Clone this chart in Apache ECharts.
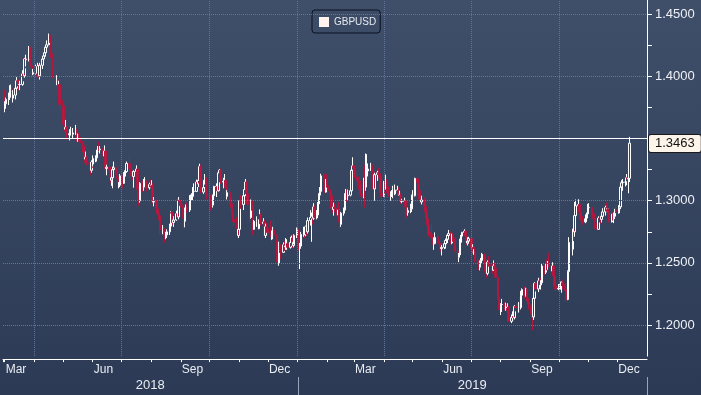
<!DOCTYPE html>
<html><head><meta charset="utf-8">
<script src="https://cdn.jsdelivr.net/npm/echarts@6/dist/echarts.min.js"></script>
<style>html,body{margin:0;padding:0;background:#35445f}#c{width:701px;height:395px}</style>
</head><body><div id="c"></div><script>
// Daily GBPUSD candles, one row per weekday from 2018-02-28: [open, close, low, high]
const ohlc = [
[1.3890,1.3760,1.3750,1.3900],[1.3760,1.3780,1.3712,1.3800],[1.3780,1.3815,1.3740,1.3830],
[1.3815,1.3830,1.3770,1.3870],[1.3830,1.3885,1.3810,1.3929],[1.3885,1.3895,1.3850,1.3935],[1.3895,1.3825,1.3795,1.3910],[1.3825,1.3850,1.3790,1.3890],
[1.3850,1.3905,1.3815,1.3925],[1.3905,1.3965,1.3870,1.3995],[1.3965,1.3960,1.3920,1.4000],[1.3960,1.3935,1.3890,1.3975],[1.3935,1.3935,1.3890,1.3965],
[1.3935,1.4020,1.3925,1.4050],[1.4020,1.4005,1.3960,1.4040],[1.4005,1.4140,1.3990,1.4150],[1.4140,1.4135,1.4065,1.4215],[1.4135,1.4140,1.4080,1.4175],
[1.4140,1.4235,1.4120,1.4245],[1.4235,1.4165,1.4140,1.4245],[1.4165,1.4085,1.4075,1.4195],[1.4085,1.4020,1.4005,1.4105],[1.4020,1.4030,1.4010,1.4060],
[1.4030,1.4080,1.4015,1.4095],[1.4080,1.4025,1.4000,1.4085],[1.4025,1.4080,1.4010,1.4110],[1.4080,1.4005,1.3990,1.4100],[1.4005,1.4090,1.3975,1.4110],
[1.4090,1.4140,1.4060,1.4160],[1.4140,1.4165,1.4120,1.4190],[1.4165,1.4190,1.4140,1.4215],[1.4190,1.4235,1.4160,1.4245],[1.4235,1.4255,1.4200,1.4290],
[1.4255,1.4330,1.4250,1.4345],[1.4330,1.4295,1.4270,1.4377],[1.4295,1.4185,1.4150,1.4305],[1.4185,1.4040,1.4030,1.4210],[1.4040,1.4010,1.3985,1.4070],
[1.4010,1.3965,1.3935,1.4035],[1.3965,1.3970,1.3930,1.4010],[1.3970,1.3930,1.3885,1.3990],[1.3930,1.3935,1.3880,1.3965],[1.3935,1.3775,1.3710,1.3945],
[1.3775,1.3765,1.3745,1.3810],[1.3765,1.3615,1.3605,1.3775],[1.3615,1.3575,1.3555,1.3625],[1.3575,1.3590,1.3560,1.3650],[1.3590,1.3530,1.3490,1.3600],
[1.3530,1.3540,1.3500,1.3575],[1.3540,1.3555,1.3485,1.3570],[1.3555,1.3570,1.3525,1.3595],[1.3570,1.3535,1.3460,1.3590],[1.3535,1.3545,1.3505,1.3585],
[1.3545,1.3565,1.3530,1.3610],[1.3565,1.3500,1.3475,1.3580],[1.3500,1.3525,1.3475,1.3540],[1.3525,1.3510,1.3475,1.3545],[1.3510,1.3465,1.3445,1.3525],
[1.3465,1.3445,1.3390,1.3480],[1.3445,1.3435,1.3415,1.3470],[1.3435,1.3335,1.3305,1.3440],[1.3335,1.3350,1.3305,1.3395],[1.3350,1.3305,1.3285,1.3360],
[1.3305,1.3300,1.3275,1.3340],[1.3300,1.3245,1.3205,1.3310],[1.3245,1.3310,1.3225,1.3325],[1.3310,1.3295,1.3265,1.3340],[1.3295,1.3340,1.3275,1.3365],
[1.3340,1.3345,1.3310,1.3365],[1.3345,1.3400,1.3315,1.3410],[1.3400,1.3425,1.3380,1.3440],[1.3425,1.3410,1.3400,1.3475],[1.3410,1.3415,1.3380,1.3440],
[1.3415,1.3380,1.3360,1.3425],[1.3380,1.3360,1.3340,1.3400],[1.3360,1.3400,1.3345,1.3445],[1.3400,1.3260,1.3230,1.3420],[1.3260,1.3270,1.3205,1.3290],
[1.3270,1.3250,1.3210,1.3295],[1.3250,1.3165,1.3140,1.3265],[1.3165,1.3185,1.3120,1.3210],[1.3185,1.3250,1.3100,1.3275],[1.3250,1.3265,1.3220,1.3315],
[1.3265,1.3250,1.3215,1.3290],[1.3250,1.3190,1.3175,1.3270],[1.3190,1.3125,1.3115,1.3210],[1.3125,1.3125,1.3100,1.3150],[1.3125,1.3200,1.3110,1.3215],
[1.3200,1.3140,1.3100,1.3205],[1.3140,1.3210,1.3135,1.3230],[1.3210,1.3235,1.3180,1.3245],[1.3235,1.3235,1.3195,1.3260],[1.3235,1.3300,1.3225,1.3315],
[1.3300,1.3260,1.3250,1.3362],[1.3260,1.3240,1.3205,1.3290],[1.3240,1.3200,1.3190,1.3270],[1.3200,1.3195,1.3165,1.3240],[1.3195,1.3235,1.3105,1.3245],
[1.3235,1.3255,1.3195,1.3285],[1.3255,1.3090,1.3080,1.3265],[1.3090,1.3020,1.3010,1.3105],[1.3020,1.3000,1.2957,1.3050],[1.3000,1.3140,1.2985,1.3150],
[1.3140,1.3110,1.3070,1.3160],[1.3110,1.3160,1.3080,1.3175],[1.3160,1.3160,1.3110,1.3190],[1.3160,1.3115,1.3105,1.3175],[1.3115,1.3105,1.3075,1.3135],
[1.3105,1.3130,1.3090,1.3145],[1.3130,1.3125,1.3105,1.3170],[1.3125,1.3125,1.3095,1.3165],[1.3125,1.2990,1.2975,1.3140],[1.2990,1.2995,1.2955,1.3030],
[1.2995,1.2935,1.2920,1.3010],[1.2935,1.2895,1.2880,1.2965],[1.2895,1.2880,1.2860,1.2925],[1.2880,1.2845,1.2810,1.2905],[1.2845,1.2765,1.2725,1.2855],
[1.2765,1.2775,1.2730,1.2805],[1.2775,1.2740,1.2720,1.2795],[1.2740,1.2710,1.2662,1.2760],[1.2710,1.2725,1.2690,1.2750],[1.2725,1.2750,1.2700,1.2770],
[1.2750,1.2795,1.2725,1.2815],[1.2795,1.2905,1.2780,1.2915],[1.2905,1.2900,1.2875,1.2960],[1.2900,1.2825,1.2805,1.2910],[1.2825,1.2845,1.2790,1.2875],
[1.2845,1.2895,1.2840,1.2920],[1.2895,1.2870,1.2820,1.2935],[1.2870,1.3005,1.2850,1.3030],[1.3005,1.2990,1.2980,1.3045],[1.2990,1.2960,1.2945,1.3000],
[1.2960,1.2860,1.2855,1.2970],[1.2860,1.2835,1.2785,1.2880],[1.2835,1.2915,1.2786,1.2945],[1.2915,1.2950,1.2890,1.2970],[1.2950,1.2925,1.2905,1.2985],
[1.2925,1.3030,1.2910,1.3045],[1.3030,1.3035,1.2980,1.3050],[1.3035,1.3035,1.3000,1.3060],[1.3035,1.3075,1.3005,1.3110],[1.3075,1.3075,1.3055,1.3140],
[1.3075,1.3150,1.3070,1.3170],[1.3150,1.3135,1.3110,1.3165],[1.3135,1.3165,1.3110,1.3200],[1.3165,1.3275,1.3150,1.3298],[1.3275,1.3070,1.3060,1.3290],
[1.3070,1.3105,1.3055,1.3150],[1.3105,1.3165,1.3095,1.3185],[1.3165,1.3185,1.3130,1.3215],[1.3185,1.3055,1.3045,1.3190],[1.3055,1.3035,1.3010,1.3095],
[1.3035,1.3030,1.3000,1.3090],[1.3030,1.2975,1.2920,1.3050],[1.2975,1.2965,1.2920,1.3050],[1.2965,1.3040,1.2945,1.3050],[1.3040,1.3115,1.3015,1.3120],
[1.3115,1.3115,1.3030,1.3140],[1.3115,1.3080,1.3040,1.3130],[1.3080,1.3225,1.3075,1.3235],[1.3225,1.3245,1.3175,1.3255],[1.3245,1.3150,1.3135,1.3257],
[1.3150,1.3155,1.3100,1.3185],[1.3155,1.3165,1.3115,1.3215],[1.3165,1.3110,1.3080,1.3175],[1.3110,1.3035,1.3010,1.3120],[1.3035,1.3065,1.3010,1.3085],
[1.3065,1.2990,1.2975,1.3100],[1.2990,1.2975,1.2945,1.3030],[1.2975,1.2910,1.2890,1.3030],[1.2910,1.2850,1.2830,1.2930],[1.2850,1.2825,1.2795,1.2870],
[1.2825,1.2790,1.2775,1.2870],[1.2790,1.2720,1.2696,1.2800],[1.2720,1.2770,1.2700,1.2785],[1.2770,1.3000,1.2760,1.3005],[1.3000,1.2970,1.2935,1.3045],
[1.2970,1.3040,1.2925,1.3045],[1.3040,1.3090,1.3005,1.3120],[1.3090,1.3150,1.3075,1.3175],[1.3150,1.3055,1.3040,1.3160],[1.3055,1.2970,1.2960,1.3070],
[1.2970,1.2865,1.2825,1.2980],[1.2865,1.2995,1.2855,1.3010],[1.2995,1.2965,1.2920,1.3030],[1.2965,1.2770,1.2724,1.3000],[1.2770,1.2835,1.2765,1.2845],
[1.2835,1.2845,1.2790,1.2875],[1.2845,1.2775,1.2770,1.2870],[1.2775,1.2830,1.2770,1.2850],[1.2830,1.2890,1.2815,1.2930],[1.2890,1.2815,1.2800,1.2900],
[1.2815,1.2830,1.2790,1.2860],[1.2830,1.2720,1.2715,1.2845],[1.2720,1.2790,1.2700,1.2815],[1.2790,1.2780,1.2750,1.2825],[1.2780,1.2745,1.2720,1.2805],
[1.2745,1.2735,1.2705,1.2840],[1.2735,1.2725,1.2660,1.2790],[1.2725,1.2730,1.2685,1.2760],[1.2730,1.2765,1.2690,1.2790],[1.2765,1.2725,1.2700,1.2845],
[1.2725,1.2560,1.2505,1.2730],[1.2560,1.2495,1.2480,1.2610],[1.2495,1.2630,1.2477,1.2670],[1.2630,1.2600,1.2580,1.2690],[1.2600,1.2585,1.2530,1.2650],
[1.2585,1.2645,1.2580,1.2665],[1.2645,1.2630,1.2595,1.2675],[1.2630,1.2635,1.2605,1.2700],[1.2635,1.2655,1.2605,1.2690],[1.2655,1.2625,1.2600,1.2685],
[1.2625,1.2665,1.2615,1.2710],[1.2665,1.2700,1.2660,1.2720],[1.2700,1.2640,1.2620,1.2725],[1.2640,1.2665,1.2625,1.2700],[1.2665,1.2720,1.2650,1.2730],
[1.2720,1.2755,1.2700,1.2785],[1.2755,1.2760,1.2740,1.2775],[1.2760,1.2620,1.2600,1.2770],[1.2620,1.2635,1.2450,1.2660],[1.2635,1.2730,1.2615,1.2750],
[1.2730,1.2780,1.2710,1.2790],[1.2780,1.2725,1.2700,1.2790],[1.2725,1.2790,1.2715,1.2800],[1.2790,1.2750,1.2720,1.2805],[1.2750,1.2840,1.2735,1.2865],
[1.2840,1.2865,1.2800,1.2925],[1.2865,1.2870,1.2670,1.2905],[1.2870,1.2860,1.2810,1.2890],[1.2860,1.2950,1.2845,1.2980],[1.2950,1.2880,1.2860,1.2965],
[1.2880,1.2885,1.2850,1.2925],[1.2885,1.2975,1.2860,1.2990],[1.2975,1.3045,1.2960,1.3060],[1.3045,1.3075,1.3030,1.3110],[1.3075,1.3200,1.3060,1.3217],
[1.3200,1.3175,1.3135,1.3215],[1.3175,1.3070,1.3065,1.3215],[1.3070,1.3160,1.3065,1.3175],[1.3160,1.3120,1.3105,1.3215],[1.3120,1.3080,1.3050,1.3135],
[1.3080,1.3040,1.3020,1.3090],[1.3040,1.2940,1.2920,1.3045],[1.2940,1.2930,1.2900,1.2955],[1.2930,1.2950,1.2880,1.2985],[1.2950,1.2940,1.2910,1.2975],
[1.2940,1.2885,1.2855,1.2960],[1.2885,1.2925,1.2875,1.2945],[1.2925,1.2850,1.2825,1.2990],[1.2850,1.2810,1.2773,1.2875],[1.2810,1.2900,1.2790,1.2910],
[1.2900,1.2925,1.2880,1.2945],[1.2925,1.3045,1.2900,1.3060],[1.3045,1.3055,1.3025,1.3095],[1.3055,1.3040,1.2990,1.3090],[1.3040,1.3045,1.3005,1.3090],
[1.3045,1.3080,1.3035,1.3110],[1.3080,1.3245,1.3060,1.3255],[1.3245,1.3280,1.3230,1.3350],[1.3280,1.3265,1.3235,1.3305],[1.3265,1.3190,1.3180,1.3285],
[1.3190,1.3160,1.3115,1.3225],[1.3160,1.3140,1.3090,1.3195],[1.3140,1.3130,1.3115,1.3190],[1.3130,1.3055,1.3050,1.3160],[1.3055,1.3035,1.2960,1.3085],
[1.3035,1.3155,1.3020,1.3185],[1.3155,1.3110,1.2945,1.3290],[1.3110,1.3240,1.3080,1.3380],[1.3240,1.3240,1.3200,1.3375],[1.3240,1.3255,1.3195,1.3300],
[1.3255,1.3265,1.3240,1.3305],[1.3265,1.3250,1.3225,1.3305],[1.3250,1.3230,1.3150,1.3290],[1.3230,1.3095,1.3005,1.3250],[1.3095,1.3210,1.3000,1.3225],
[1.3210,1.3225,1.3160,1.3240],[1.3225,1.3210,1.3180,1.3265],[1.3210,1.3200,1.3140,1.3260],[1.3200,1.3060,1.3040,1.3220],[1.3060,1.3035,1.2975,1.3130],
[1.3035,1.3135,1.3030,1.3160],[1.3135,1.3125,1.3060,1.3160],[1.3125,1.3160,1.3090,1.3210],[1.3160,1.3115,1.3060,1.3175],[1.3115,1.3035,1.3020,1.3130],
[1.3035,1.3055,1.3000,1.3075],[1.3055,1.3055,1.3030,1.3085],[1.3055,1.3100,1.3020,1.3120],[1.3100,1.3055,1.3045,1.3130],[1.3055,1.3085,1.3045,1.3130],
[1.3085,1.3085,1.3060,1.3120],[1.3085,1.3045,1.3040,1.3110],[1.3045,1.3045,1.3025,1.3080],[1.3045,1.2995,1.2975,1.3060],[1.2995,1.2995,1.2980,1.3015],
[1.2995,1.3000,1.2965,1.3025],[1.3000,1.2950,1.2940,1.3020],[1.2950,1.2910,1.2890,1.2970],[1.2910,1.2905,1.2866,1.2930],[1.2905,1.2920,1.2880,1.2945],
[1.2920,1.2935,1.2900,1.2975],[1.2935,1.3040,1.2910,1.3050],[1.3040,1.3045,1.3005,1.3085],[1.3045,1.3040,1.2990,1.3105],[1.3040,1.3180,1.3035,1.3185],
[1.3180,1.3145,1.3100,1.3195],[1.3145,1.3080,1.3050,1.3175],[1.3080,1.3010,1.2985,1.3095],[1.3010,1.2990,1.2980,1.3035],[1.2990,1.3005,1.2970,1.3040],
[1.3005,1.2955,1.2935,1.3025],[1.2955,1.2910,1.2895,1.2975],[1.2910,1.2855,1.2840,1.2915],[1.2855,1.2805,1.2795,1.2880],[1.2805,1.2725,1.2715,1.2815],
[1.2725,1.2720,1.2700,1.2750],[1.2720,1.2690,1.2680,1.2815],[1.2690,1.2655,1.2645,1.2730],[1.2655,1.2655,1.2605,1.2705],[1.2655,1.2705,1.2650,1.2745],
[1.2705,1.2680,1.2665,1.2730],[1.2680,1.2660,1.2650,1.2715],[1.2660,1.2625,1.2605,1.2680],[1.2625,1.2615,1.2590,1.2650],[1.2615,1.2625,1.2560,1.2645],
[1.2625,1.2655,1.2610,1.2665],[1.2655,1.2680,1.2615,1.2695],[1.2680,1.2690,1.2650,1.2725],[1.2690,1.2720,1.2660,1.2735],[1.2720,1.2735,1.2690,1.2765],
[1.2735,1.2660,1.2650,1.2750],[1.2660,1.2715,1.2650,1.2735],[1.2715,1.2690,1.2670,1.2740],[1.2690,1.2685,1.2665,1.2720],[1.2685,1.2595,1.2590,1.2705],
[1.2595,1.2545,1.2530,1.2615],[1.2545,1.2565,1.2506,1.2580],[1.2565,1.2665,1.2555,1.2695],[1.2665,1.2715,1.2565,1.2725],[1.2715,1.2745,1.2690,1.2750],
[1.2745,1.2755,1.2720,1.2770],[1.2755,1.2715,1.2695,1.2784],[1.2715,1.2660,1.2645,1.2725],[1.2660,1.2675,1.2640,1.2705],[1.2675,1.2695,1.2655,1.2710],
[1.2695,1.2620,1.2615,1.2735],[1.2620,1.2625,1.2580,1.2650],[1.2625,1.2585,1.2580,1.2650],[1.2585,1.2585,1.2565,1.2610],[1.2585,1.2520,1.2505,1.2600],
[1.2520,1.2510,1.2490,1.2530],[1.2510,1.2465,1.2440,1.2520],[1.2465,1.2495,1.2440,1.2520],[1.2495,1.2520,1.2480,1.2540],[1.2520,1.2570,1.2505,1.2580],
[1.2570,1.2510,1.2505,1.2575],[1.2510,1.2425,1.2420,1.2525],[1.2425,1.2415,1.2380,1.2440],[1.2415,1.2505,1.2400,1.2520],[1.2505,1.2480,1.2470,1.2555],
[1.2480,1.2475,1.2455,1.2505],[1.2475,1.2440,1.2415,1.2495],[1.2440,1.2475,1.2435,1.2520],[1.2475,1.2460,1.2425,1.2500],[1.2460,1.2385,1.2380,1.2480],
[1.2385,1.2225,1.2210,1.2390],[1.2225,1.2165,1.2120,1.2235],[1.2165,1.2150,1.2120,1.2215],[1.2150,1.2165,1.2080,1.2175],[1.2165,1.2165,1.2105,1.2210],
[1.2165,1.2145,1.2120,1.2180],[1.2145,1.2155,1.2115,1.2180],[1.2155,1.2140,1.2115,1.2170],[1.2140,1.2145,1.2125,1.2175],[1.2145,1.2030,1.2025,1.2155],
[1.2030,1.2060,1.2015,1.2085],[1.2060,1.2070,1.2035,1.2110],[1.2070,1.2060,1.2020,1.2095],[1.2060,1.2150,1.2045,1.2160],[1.2150,1.2140,1.2110,1.2165],
[1.2140,1.2130,1.2100,1.2175],[1.2130,1.2160,1.2100,1.2185],[1.2160,1.2140,1.2105,1.2225],[1.2140,1.2240,1.2125,1.2275],[1.2240,1.2285,1.2190,1.2295],
[1.2285,1.2235,1.2215,1.2310],[1.2235,1.2290,1.2230,1.2300],[1.2290,1.2215,1.2190,1.2290],[1.2215,1.2180,1.2165,1.2230],[1.2180,1.2160,1.2125,1.2210],
[1.2160,1.2085,1.2070,1.2165],[1.2085,1.2065,1.1958,1.2100],[1.2065,1.2215,1.2040,1.2235],[1.2215,1.2335,1.2205,1.2345],[1.2335,1.2290,1.2270,1.2345],
[1.2290,1.2355,1.2265,1.2380],[1.2355,1.2350,1.2330,1.2385],[1.2350,1.2325,1.2305,1.2380],[1.2325,1.2340,1.2285,1.2360],[1.2340,1.2475,1.2320,1.2495],
[1.2475,1.2425,1.2405,1.2480],[1.2425,1.2490,1.2410,1.2500],[1.2490,1.2475,1.2440,1.2530],[1.2475,1.2485,1.2445,1.2515],[1.2485,1.2475,1.2465,1.2580],
[1.2475,1.2435,1.2420,1.2500],[1.2435,1.2475,1.2410,1.2505],[1.2475,1.2395,1.2370,1.2495],[1.2395,1.2315,1.2305,1.2405],[1.2315,1.2290,1.2270,1.2345],
[1.2290,1.2295,1.2280,1.2330],[1.2295,1.2305,1.2280,1.2330],[1.2305,1.2310,1.2285,1.2350],[1.2310,1.2340,1.2260,1.2350],[1.2340,1.2330,1.2290,1.2365],
[1.2330,1.2290,1.2275,1.2335],[1.2290,1.2210,1.2195,1.2300],[1.2210,1.2205,1.2200,1.2245],[1.2205,1.2430,1.2200,1.2440],[1.2430,1.2665,1.2420,1.2707],
[1.2665,1.2610,1.2585,1.2670],[1.2610,1.2765,1.2560,1.2775],[1.2765,1.2750,1.2675,1.2835],[1.2750,1.2880,1.2710,1.2990],[1.2880,1.2960,1.2840,1.3010],
[1.2960,1.2970,1.2915,1.3012],[1.2970,1.2905,1.2850,1.3015],[1.2905,1.2875,1.2845,1.2930],[1.2875,1.2840,1.2825,1.2905],[1.2840,1.2830,1.2805,1.2875],
[1.2830,1.2855,1.2820,1.2890],[1.2855,1.2860,1.2820,1.2875],[1.2860,1.2895,1.2845,1.2905],[1.2895,1.2945,1.2885,1.2975],[1.2945,1.2945,1.2895,1.2980],
[1.2945,1.2895,1.2880,1.2950],[1.2895,1.2875,1.2855,1.2935],[1.2875,1.2865,1.2845,1.2895],[1.2865,1.2820,1.2775,1.2900],[1.2820,1.2770,1.2765,1.2835],
[1.2770,1.2860,1.2770,1.2875],[1.2860,1.2855,1.2825,1.2895],[1.2855,1.2850,1.2815,1.2875],[1.2850,1.2875,1.2825,1.2895],[1.2875,1.2910,1.2860,1.2940],
[1.2910,1.2945,1.2880,1.2960],[1.2945,1.2935,1.2910,1.2985],[1.2935,1.2935,1.2905,1.2950],[1.2935,1.2915,1.2880,1.2975],[1.2915,1.2830,1.2825,1.2930],
[1.2830,1.2890,1.2825,1.2895],[1.2890,1.2855,1.2840,1.2905],[1.2855,1.2875,1.2820,1.2905],[1.2875,1.2925,1.2855,1.2935],[1.2925,1.2915,1.2900,1.2955],
[1.2915,1.2935,1.2895,1.2965],[1.2935,1.2950,1.2900,1.2985],[1.2950,1.3110,1.2935,1.3120],[1.3110,1.3145,1.3090,1.3165],[1.3145,1.3150,1.3080,1.3175],
[1.3150,1.3150,1.3115,1.3180],[1.3150,1.3185,1.3125,1.3215],[1.3185,1.3175,1.3110,1.3215],[1.3175,1.3180,1.3060,1.3200],[1.3180,1.3463,1.3150,1.3514]
];
const firstDay = [2018, 1, 28];            // 2018-02-28
const axisMin = '2018-02-27 06:00';
const axisMax = '2020-01-01 00:00';
const yLabelValues = [1.20, 1.25, 1.30, 1.40, 1.45];
const yGridValues = [1.20, 1.25, 1.30, 1.35, 1.40, 1.45];
const quarterLines = ['2018-04-01', '2018-07-01', '2018-10-01', '2019-01-01', '2019-04-01', '2019-07-01', '2019-10-01'];
const monthLabels = {2: 'Mar', 5: 'Jun', 8: 'Sep', 11: 'Dec'};
const years = [
  {label: '2018', from: '2018-02-27 06:00', to: '2019-01-01 00:00'},
  {label: '2019', from: '2019-01-01 00:00', to: '2020-01-01 00:00'}
];
const seriesName = 'GBPUSD';

// trading days (weekdays) from the first day
const dates = [];
const dd = new Date(firstDay[0], firstDay[1], firstDay[2], 12);
while (dates.length < ohlc.length) {
  const wd = dd.getDay();
  if (wd !== 0 && wd !== 6) dates.push(dd.getTime());
  dd.setDate(dd.getDate() + 1);
}
const candleData = dates.map((t, i) => [t].concat(ohlc[i]));
const lastRow = ohlc[ohlc.length - 1];
const lastClose = lastRow[1];
const lastHigh = lastRow[3];

const FONT = "'Liberation Sans', Arial, sans-serif";
const chart = echarts.init(document.getElementById('c'));
const ts = s => new Date(s.replace(' ', 'T')).getTime();

chart.setOption({
  animation: false,
  backgroundColor: {type: 'linear', x: 0, y: 0, x2: 0, y2: 1,
    colorStops: [{offset: 0, color: '#3f4e69'}, {offset: 1, color: '#2c3a56'}]},
  grid: {left: 0, right: 54, top: 0, bottom: 38.9, containLabel: false},
  legend: {
    data: [{name: seriesName, icon: 'rect', itemStyle: {color: '#fff3ef', borderWidth: 0}}],
    left: 312, top: 10, itemWidth: 10, itemHeight: 10, itemGap: 5,
    padding: [7, 4, 6, 7], borderColor: '#0b1020', borderWidth: 1, borderRadius: 3,
    backgroundColor: '#3c4b66',
    textStyle: {color: '#e6eaf0', fontSize: 10, fontFamily: FONT}
  },
  xAxis: {
    type: 'time', min: ts(axisMin), max: ts(axisMax),
    splitNumber: 24, minInterval: 27 * 864e5, maxInterval: 31 * 864e5,
    offset: 3,
    axisLine: {show: true, lineStyle: {color: '#ffffff', width: 1}},
    axisTick: {show: true, length: 3, lineStyle: {color: '#ffffff'}},
    axisLabel: {
      show: true, color: '#e9edf2', fontSize: 12, fontFamily: FONT, margin: 5,
      align: 'left', padding: [0, 0, 0, 1], hideOverlap: false,
      showMinLabel: true, showMaxLabel: false,
      formatter: function (v) {
        const d = new Date(v);
        if (d.getDate() !== 1) return '';
        return monthLabels[d.getMonth()] || '';
      }
    },
    splitLine: {show: false}
  },
  yAxis: {
    type: 'value', position: 'right', min: 1.175, max: 1.4615, interval: 0.025,
    axisLine: {show: true, lineStyle: {color: '#ffffff', width: 1}},
    axisTick: {show: true, length: 5, lineStyle: {color: '#ffffff'}},
    axisLabel: {
      color: '#eef1f5', fontSize: 13, fontFamily: FONT, margin: 8,
      showMinLabel: false, showMaxLabel: false,
      formatter: function (v) {
        return yLabelValues.some(x => Math.abs(x - v) < 1e-6) ? v.toFixed(4) : '';
      }
    },
    splitLine: {show: false}
  },
  series: [{
    // dashed grid lines (horizontal and quarterly vertical), behind the candles
    name: 'grid', type: 'line', data: [], z: 1, silent: true, legendHoverLink: false,
    markLine: {
      silent: true, symbol: ['none', 'none'], animation: false,
      label: {show: false},
      lineStyle: {type: 'dotted', color: '#60779a', width: 1, opacity: 1},
      data: yGridValues.map(v => ({yAxis: v}))
        .concat(quarterLines.map(s => ({xAxis: ts(s + 'T00:00')})))
    }
  }, {
    name: seriesName, type: 'candlestick', z: 3,
    dimensions: ['date', 'open', 'close', 'lowest', 'highest'],
    encode: {x: 'date', y: ['open', 'close', 'lowest', 'highest']},
    data: candleData,
    barWidth: 2,
    itemStyle: {
      color: 'rgba(0,0,0,0)', borderColor: '#ffffff',
      color0: '#c2153f', borderColor0: '#b0183f', borderWidth: 1
    },
    markLine: {
      silent: true, symbol: ['none', 'none'], animation: false,
      label: {show: false},
      lineStyle: {type: 'solid', color: '#ffffff', width: 1},
      data: [
        {yAxis: lastHigh},
        {yAxis: lastClose, lineStyle: {color: 'rgba(0,0,0,0)', width: 0},
         label: {show: true, position: 'end', distance: 2, offset: [0, 5],
           formatter: lastClose.toFixed(4), color: '#111111', fontSize: 13, fontFamily: FONT,
           backgroundColor: '#fdf5ea', borderColor: '#1a1a1a', borderWidth: 1,
           borderRadius: 2, padding: [2, 6, 2, 6]}}
      ]
    }
  }]
});

// year row under the month labels, placed with the x axis scale
const px = t => chart.convertToPixel({xAxisIndex: 0}, t);
const gfx = [];
years.forEach(y => {
  const a = px(ts(y.from));
  const b = px(ts(y.to));
  gfx.push({type: 'text', x: (a + b) / 2, y: 385,
    style: {text: y.label, fill: '#e9edf2', font: '13px ' + FONT, textAlign: 'center', textVerticalAlign: 'middle'}});
  gfx.push({type: 'line', shape: {x1: Math.round(b) + 0.5, y1: 377, x2: Math.round(b) + 0.5, y2: 395},
    style: {stroke: '#9aa6b8', lineWidth: 1}});
});
chart.setOption({graphic: gfx});
</script></body></html>
